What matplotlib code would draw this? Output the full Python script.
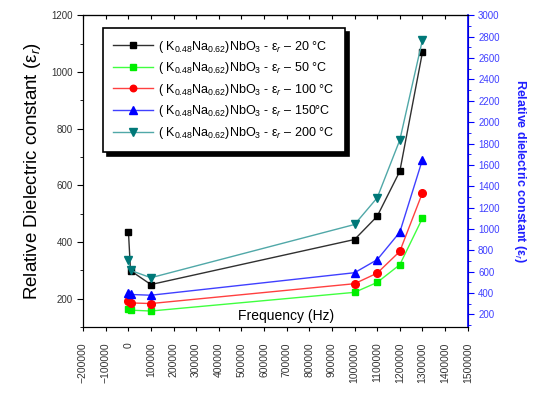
import matplotlib
matplotlib.use('Agg')
import matplotlib.pyplot as plt
from matplotlib.ticker import MultipleLocator

plt.rcParams['font.family'] = ['Liberation Sans', 'DejaVu Sans']
plt.rcParams['mathtext.fontset'] = 'custom'
plt.rcParams['mathtext.rm'] = 'Liberation Sans'
plt.rcParams['mathtext.it'] = 'Liberation Sans:italic'
plt.rcParams['mathtext.bf'] = 'Liberation Sans:bold'

# 频率 (Hz)
freq = [1000, 10000, 100000, 1000000, 1100000, 1200000, 1300000]

# 20°C 在左轴，其余在右轴
eps_20 = [434, 299, 250, 409, 491, 650, 1070]
eps_50 = [246, 238, 230, 405, 498, 664, 1100]
eps_100 = [326, 306, 300, 486, 585, 789, 1338]
eps_150 = [400, 385, 378, 589, 711, 969, 1649]
eps_200 = [704, 611, 542, 1041, 1291, 1833, 2772]

comp = '( K$_{0.48}$Na$_{0.62}$)NbO$_3$ - ε$_r$ – '
labels = [comp + '20 °C', comp + '50 °C', comp + '100 °C', comp + '150°C', comp + '200 °C']

fig = plt.figure(figsize=(5.33, 3.94), dpi=100)
ax = fig.add_axes([0.1557, 0.170, 0.7218, 0.7907])
ax2 = ax.twinx()

h1, = ax.plot(freq, eps_20, '-', color='#303030', lw=1, marker='s', ms=5,
              mfc='black', mec='black', label=labels[0])
h2, = ax2.plot(freq, eps_50, '-', color='#40ff40', lw=1, marker='s', ms=5,
               mfc='#00ee00', mec='#00ee00', label=labels[1])
h3, = ax2.plot(freq, eps_100, '-', color='#ff4040', lw=1, marker='o', ms=5.5,
               mfc='#ff0000', mec='#ff0000', label=labels[2])
h4, = ax2.plot(freq, eps_150, '-', color='#4040ff', lw=1, marker='^', ms=6,
               mfc='#0000ff', mec='#0000ff', label=labels[3])
h5, = ax2.plot(freq, eps_200, '-', color='#50a8a8', lw=1, marker='v', ms=6,
               mfc='#007878', mec='#007878', label=labels[4])

# x轴
ax.set_xlim(-200000, 1500000)
ax.xaxis.set_major_locator(MultipleLocator(100000))
ax.tick_params(axis='x', direction='out', length=3, labelsize=7.5, labelrotation=90,
               labelcolor='#333333', pad=8)
ax.ticklabel_format(axis='x', style='plain')
ax.text(0.528, 0.012, 'Frequency (Hz)', transform=ax.transAxes, ha='center', va='bottom',
        fontsize=10)
top = ax.secondary_xaxis('top')
top.xaxis.set_major_locator(MultipleLocator(100000))
top.tick_params(direction='in', length=3, labeltop=False)

# 左轴
ax.set_ylim(100, 1200)
ax.yaxis.set_major_locator(MultipleLocator(200))
ax.yaxis.set_minor_locator(MultipleLocator(100))
ax.tick_params(axis='y', which='major', direction='out', length=4, labelsize=7,
               labelcolor='#333333')
ax.tick_params(axis='y', which='minor', direction='out', length=2)
ax.set_ylabel('Relative Dielectric constant (ε$_r$)', fontsize=13.5, labelpad=6)

# 右轴
ax2.set_ylim(80, 3000)
ax2.yaxis.set_major_locator(MultipleLocator(200))
ax2.yaxis.set_minor_locator(MultipleLocator(100))
ax2.tick_params(axis='y', which='major', direction='out', length=4, labelsize=7,
                colors='#0000ff', labelcolor='#4040ff')
ax2.tick_params(axis='y', which='minor', direction='out', length=2, colors='#0000ff')
ax2.spines['right'].set_color('#0000ff')
ax2.spines['right'].set_linewidth(1.2)
ax2.set_ylabel('Relative dielectric constant (ε$_r$)', fontsize=9, fontweight='bold',
               color='#2020ff', rotation=270, labelpad=20)

leg = ax2.legend(handles=[h1, h2, h3, h4, h5], loc='upper left',
                 bbox_to_anchor=(0.035, 0.98), fontsize=9, handlelength=3.2,
                 fancybox=False, framealpha=1, edgecolor='black',
                 shadow={'color': 'black', 'alpha': 1, 'ox': 3, 'oy': -3},
                 borderpad=0.85, labelspacing=0.45, handletextpad=0.4, markerscale=0.85)
leg.get_frame().set_linewidth(1.2)

fig.savefig('out.png', dpi=100)
